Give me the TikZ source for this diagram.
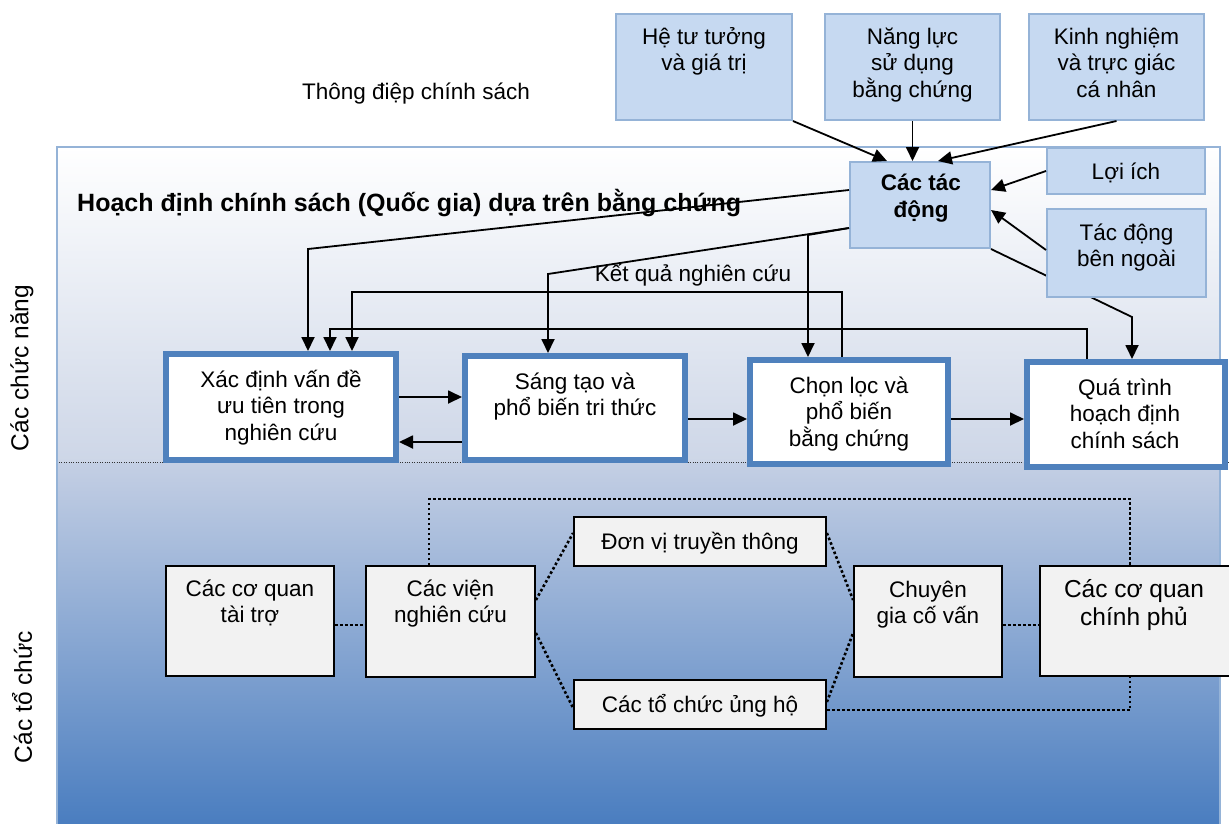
\documentclass[tikz,border=0pt]{standalone}
\usepackage{fontspec}
\setmainfont{Liberation Sans}
\usetikzlibrary{arrows.meta,calc}

\definecolor{topfill}{RGB}{198,217,241}
\definecolor{topline}{RGB}{149,179,215}
\definecolor{funcline}{RGB}{79,129,189}
\definecolor{orgfill}{RGB}{242,242,242}
\definecolor{bandtop}{RGB}{205,214,231}
\definecolor{bandmid}{RGB}{196,207,228}
\definecolor{bandlow}{RGB}{72,124,191}

% fixed height for the first line of every box text
\newcommand{\boxtopstrut}{\rule{0pt}{24pt}}

\tikzset{
  dims/.style 2 args={minimum width=#1, minimum height=#2},
  topbox/.style={draw=topline, fill=topfill, line width=2pt, inner sep=0pt},
  funcbox/.style={draw=funcline, fill=white, line width=6pt, inner sep=0pt},
  orgbox/.style={draw=black, fill=orgfill, line width=1.8pt, inner sep=0pt},
  txt/.style={align=center, inner sep=0pt, anchor=north,
    font=\fontsize{22.5}{26.5}\selectfont},
  bigtxt/.style={txt, font=\fontsize{24.5}{28}\selectfont},
  line/.style={align=center, inner sep=0pt, anchor=base,
    font=\fontsize{22.5}{26.5}\selectfont},
  side/.style={inner sep=0pt, rotate=90, font=\fontsize{24.5}{28}\selectfont},
  link/.style={line width=1.8pt, -{Triangle[length=14pt,width=13pt]}},
  dotlink/.style={line width=2.6pt, dash pattern=on 2.6pt off 2.4pt},
  divider/.style={line width=1pt, black!80, dash pattern=on 1pt off 1.4pt},
}

\begin{document}
\begin{tikzpicture}[x=1pt, y=-1pt]
\useasboundingbox (0,0) rectangle (1229,823);
\fill[white] (0,0) rectangle (1229,823);

% frame of the evidence-based policy area
\shade[top color=white, bottom color=bandtop] (57,147) rectangle (1220,462);
\shade[top color=bandmid, bottom color=bandlow] (57,462) rectangle (1220,830);
\draw[topline, line width=2pt] (57,147) rectangle (1220,830);
\draw[divider] (59,462) -- (1229,462);

% side labels
\node[side] (lblfunc) at (22,368) {Các chức năng};
\node[side] (lblorg) at (22,697) {Các tổ chức};

% headings
\node[line, anchor=base west, font=\bfseries\fontsize{25}{29}\selectfont] (title) at (77,211)
  {Hoạch định chính sách (Quốc gia) dựa trên bằng chứng};
\node[line] (message) at (416,99) {Thông điệp chính sách};
\node[line] (results) at (693,281) {Kết quả nghiên cứu};

% influence boxes
\node[topbox, dims={176pt}{106pt}] (ideas) at (704,67) {};
\node[topbox, dims={175pt}{106pt}] (capacity) at (912.5,67) {};
\node[topbox, dims={175pt}{106pt}] (experience) at (1116.5,67) {};
\node[topbox, dims={158pt}{46pt}] (interests) at (1126,171) {};

% function boxes
\node[funcbox, dims={230pt}{106pt}] (problem) at (281,407) {};
\node[funcbox, dims={220pt}{104pt}] (creation) at (575,408) {};
\node[funcbox, dims={198pt}{104pt}] (selection) at (849,412) {};
\node[funcbox, dims={198pt}{105pt}] (policy) at (1126,414.5) {};

% arrows into the influences box
\node[topbox, dims={140pt}{86pt}] (impact) at (920,205) {};
\draw[link] (ideas.south east) -- ($(impact.north)+(-33,0)$);
\draw[link] (capacity.south) -- (capacity.south |- impact.north);
\draw[link] (experience.south) -- ($(impact.north)+(18,0)$);
\draw[link] (interests.west) -- ($(impact.east)+(0,-15)$);

% influences acting on the functions
\coordinate (k1) at (1132,317);
\draw[link] (impact.south east) -- (k1) -- (k1 |- policy.north);
\node[topbox, dims={159pt}{88pt}] (external) at (1126.5,253) {};
\draw[link] ($(external.west)+(0,-3)$) -- ($(impact.east)+(0,5)$);

\coordinate (k2) at (308,249);
\draw[link] ($(impact.west)+(0,-15)$) -- (k2) -- (k2 |- problem.north);
\coordinate (k3) at (548,274);
\draw[link] ($(impact.west)+(0,23)$) -- (k3) -- (k3 |- creation.north);
\coordinate (k4) at (808,235);
\draw[link] ($(impact.west)+(0,23)$) -- (k4) -- (k4 |- selection.north);

% feedback to problem identification
\coordinate (f1) at (352,292);
\draw[link] ($(selection.north)+(-7,0)$) |- (f1) -- (f1 |- problem.north);
\coordinate (f2) at (330,329);
\draw[link] ($(policy.north)+(-39,0)$) |- (f2) -- (f2 |- problem.north);

% flow between the functions
\draw[link] ($(problem.east)+(0,-10)$) -- ($(creation.west)+(0,-11)$);
\draw[link] ($(creation.west)+(0,34)$) -- ($(problem.east)+(0,35)$);
\draw[link] ($(creation.east)+(0,11)$) -- ($(selection.west)+(0,7)$);
\draw[link] ($(selection.east)+(0,7)$) -- ($(policy.west)+(0,4.5)$);

% organisations
\node[orgbox, dims={168pt}{110pt}] (funders) at (250,621) {};
\node[orgbox, dims={169pt}{111pt}] (institutes) at (450.5,621.5) {};
\node[orgbox, dims={252pt}{49pt}] (media) at (700,541.5) {};
\node[orgbox, dims={252pt}{49pt}] (advocacy) at (700,704.5) {};
\node[orgbox, dims={148pt}{111pt}] (advisers) at (928,621.5) {};
\node[orgbox, dims={191pt}{110pt}] (government) at (1135.5,621) {};

\draw[dotlink] ($(funders.east)+(0,4)$) -- ($(institutes.west)+(0,3.5)$);
\draw[dotlink] ($(institutes.east)+(0,-21.5)$) -- ($(media.west)+(0,-8.5)$);
\draw[dotlink] ($(institutes.east)+(0,11.5)$) -- ($(advocacy.west)+(0,3.5)$);
\draw[dotlink] ($(media.east)+(0,-8.5)$) -- ($(advisers.west)+(0,-21.5)$);
\draw[dotlink] ($(advocacy.east)+(0,-2.5)$) -- ($(advisers.west)+(0,11.5)$);
\draw[dotlink] ($(advisers.east)+(0,3.5)$) -- ($(government.west)+(0,4)$);
\coordinate (d1) at (1130,499);
\draw[dotlink] ($(institutes.north)+(-21.5,0)$) |- (d1) -- (d1 |- government.north);
\coordinate (d2) at (1130,710);
\draw[dotlink] ($(advocacy.east)+(0,5.5)$) -- (d2) -- (d2 |- government.south);

% box texts
\node[txt] (ideas-t) at (704,20) {\boxtopstrut Hệ tư tưởng\\và giá trị};
\node[txt] (capacity-t) at (912.5,20) {\boxtopstrut Năng lực\\sử dụng\\bằng chứng};
\node[txt] (experience-t) at (1116.5,20) {\boxtopstrut Kinh nghiệm\\và trực giác\\cá nhân};
\node[txt, font=\bfseries\fontsize{22.5}{27}\selectfont] (impact-t) at (921,166) {\boxtopstrut Các tác\\động};
\node[line] (interests-t) at (1126,179) {Lợi ích};
\node[txt] (external-t) at (1126.5,216) {\boxtopstrut Tác động\\bên ngoài};

\node[txt] (problem-t) at (281,363) {\boxtopstrut Xác định vấn đề\\ưu tiên trong\\nghiên cứu};
\node[txt] (creation-t) at (575,365) {\boxtopstrut Sáng tạo và\\phổ biến tri thức};
\node[txt] (selection-t) at (849,369) {\boxtopstrut Chọn lọc và\\phổ biến\\bằng chứng};
\node[txt] (policy-t) at (1125,371) {\boxtopstrut Quá trình\\hoạch định\\chính sách};

\node[txt] (funders-t) at (250,572) {\boxtopstrut Các cơ quan\\tài trợ};
\node[txt] (institutes-t) at (450.5,572) {\boxtopstrut Các viện\\nghiên cứu};
\node[line] (media-t) at (700,549) {Đơn vị truyền thông};
\node[line] (advocacy-t) at (700,712) {Các tổ chức ủng hộ};
\node[txt] (advisers-t) at (928,573) {\boxtopstrut Chuyên\\gia cố vấn};
\node[bigtxt] (government-t) at (1134,573) {\boxtopstrut Các cơ quan\\chính phủ};
\end{tikzpicture}
\end{document}
